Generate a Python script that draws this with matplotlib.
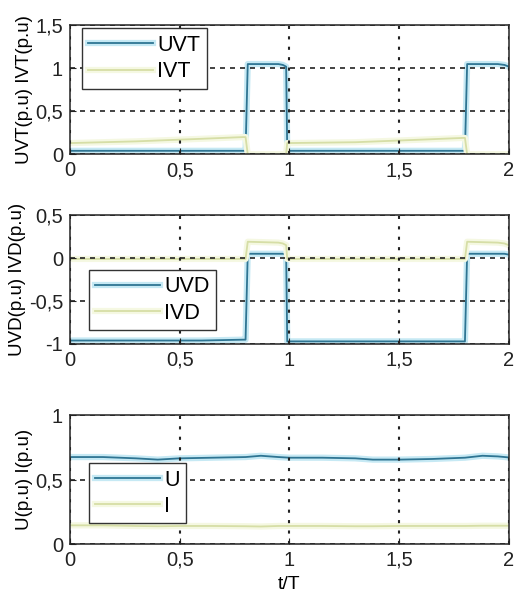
import matplotlib
matplotlib.use("Agg")
import matplotlib.pyplot as plt
import matplotlib.patheffects as pe

plt.rcParams["font.family"] = ["Liberation Sans", "DejaVu Sans"]

# time axis t/T
t_top = [0.0, 0.3, 0.6, 0.79, 0.80, 0.81, 0.95, 0.97, 0.985, 0.99, 1.3, 1.6, 1.79, 1.80, 1.81, 1.95, 1.98, 2.0]
uvt = [0.04, 0.04, 0.04, 0.04, 0.04, 1.05, 1.05, 1.04, 1.02, 0.04, 0.04, 0.04, 0.04, 0.04, 1.05, 1.05, 1.04, 1.02]
ivt = [0.13, 0.15, 0.18, 0.20, 0.20, 0.0, 0.0, 0.0, 0.0, 0.13, 0.14, 0.17, 0.19, 0.19, 0.0, 0.0, 0.0, 0.0]

t_mid = [0.0, 0.3, 0.6, 0.79, 0.80, 0.81, 0.95, 0.97, 0.985, 0.99, 1.3, 1.6, 1.79, 1.80, 1.81, 1.95, 1.98, 2.0]
uvd = [-0.96, -0.96, -0.96, -0.95, -0.95, 0.05, 0.05, 0.05, 0.04, -0.97, -0.97, -0.97, -0.97, -0.97, 0.05, 0.05, 0.05, 0.04]
ivd = [-0.01, -0.01, -0.01, -0.01, -0.01, 0.19, 0.18, 0.17, 0.15, -0.01, -0.01, -0.01, -0.01, -0.01, 0.19, 0.18, 0.17, 0.15]

t_bot = [0.0, 0.15, 0.3, 0.4, 0.5, 0.65, 0.8, 0.87, 0.95, 1.0, 1.15, 1.3, 1.38, 1.5, 1.65, 1.8, 1.88, 1.95, 2.0]
u = [0.675, 0.675, 0.665, 0.655, 0.665, 0.67, 0.675, 0.685, 0.675, 0.67, 0.67, 0.665, 0.655, 0.655, 0.66, 0.67, 0.685, 0.68, 0.672]
i = [0.145, 0.145, 0.14, 0.138, 0.14, 0.14, 0.138, 0.136, 0.14, 0.14, 0.14, 0.138, 0.138, 0.14, 0.14, 0.14, 0.142, 0.142, 0.142]

x_ticks = [0, 0.5, 1, 1.5, 2]
x_labels = ["0", "0,5", "1", "1,5", "2"]

U_COLOR = "#2f7593"
U_HALO = "#c6e9f4"
I_COLOR = "#d6dea6"
I_HALO = "#f5f8e2"


def fmt(v):
    return ("%g" % v).replace(".", ",")


def setup(ax, ylim, yticks, ylabel):
    ax.set_xlim(0, 2)
    ax.set_ylim(*ylim)
    ax.set_xticks(x_ticks)
    ax.set_xticklabels(x_labels)
    ax.set_yticks(yticks)
    ax.set_yticklabels([fmt(v) for v in yticks])
    ax.tick_params(direction="in", length=4, labelsize=14.5, pad=5, colors="#222222")
    ax.xaxis.grid(True, color="#222222", linestyle=(0, (1.5, 3.5)), linewidth=1.5)
    ax.yaxis.grid(True, color="#222222", linestyle=(0, (3, 3)), linewidth=1.2)
    ax.set_axisbelow(False)
    for sp in ax.spines.values():
        sp.set_color("#333333")
        sp.set_linewidth(1.2)
    ax.set_ylabel(ylabel, fontsize=13.5, labelpad=2)


def styled(ax, x, y, color, halo, label):
    ax.plot(x, y, color=color, linewidth=1.3, label=label,
            path_effects=[pe.Stroke(linewidth=4.5, foreground=halo), pe.Normal()])


def legend(ax, anchor):
    ax.legend(loc="upper left", bbox_to_anchor=anchor, borderaxespad=0, fontsize=15.5,
              frameon=True, fancybox=False, edgecolor="#333333", handlelength=3.0,
              handletextpad=0.2, borderpad=0.3, labelspacing=0.25, framealpha=1)


fig = plt.figure(figsize=(5.15, 5.91), dpi=100)
ax1 = fig.add_axes([0.136, 0.739, 0.852, 0.218])
ax2 = fig.add_axes([0.136, 0.418, 0.852, 0.218])
ax3 = fig.add_axes([0.136, 0.0795, 0.852, 0.218])

styled(ax1, t_top, uvt, U_COLOR, U_HALO, "UVT")
styled(ax1, t_top, ivt, I_COLOR, I_HALO, "IVT")
setup(ax1, (0, 1.5), [0, 0.5, 1, 1.5], "UVT(p.u) IVT(p.u)")
legend(ax1, (0.027, 0.977))

styled(ax2, t_mid, uvd, U_COLOR, U_HALO, "UVD")
styled(ax2, t_mid, ivd, I_COLOR, I_HALO, "IVD")
setup(ax2, (-1, 0.5), [-1, -0.5, 0, 0.5], "UVD(p.u) IVD(p.u)")
legend(ax2, (0.043, 0.574))

styled(ax3, t_bot, u, U_COLOR, U_HALO, "U")
styled(ax3, t_bot, i, I_COLOR, I_HALO, "I")
setup(ax3, (0, 1), [0, 0.5, 1], "U(p.u) I(p.u)")
legend(ax3, (0.043, 0.628))
ax3.set_xlabel("t/T", fontsize=14, labelpad=4)

fig.savefig("out.png", dpi=100)
